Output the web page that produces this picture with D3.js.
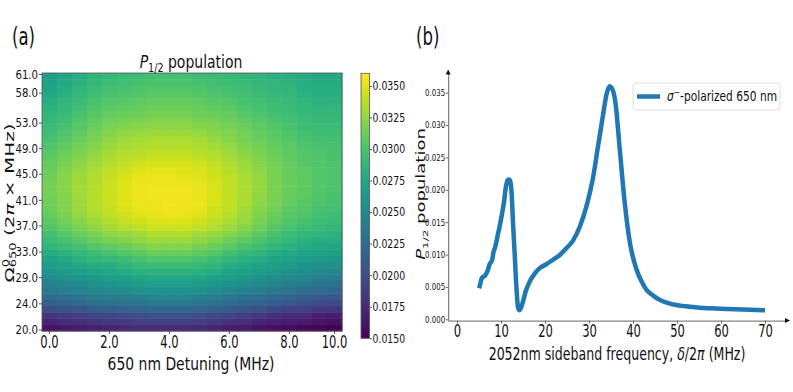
<!DOCTYPE html>
<html><head><meta charset="utf-8">
<script src="https://cdn.jsdelivr.net/npm/d3@7"></script>
<style>
body{margin:0;background:#fff;}
svg{display:block;font-family:"DejaVu Sans",sans-serif;}
</style></head><body>
<svg id="c" width="793" height="392"></svg>
<script>
// ---------- data: panel (a) ----------
const detuning = [0,0.53,1.05,1.58,2.11,2.63,3.16,3.68,4.21,4.74,5.26,5.79,6.32,6.84,7.37,7.89,8.42,8.95,9.47,10.0];
const detuningTickCols = [0,4,8,12,16,19];
const detuningTickLabels = ["0.0","2.0","4.0","6.0","8.0","10.0"];
const rabi = [20,21.03,22.05,23.08,24.1,25.13,26.15,27.18,28.2,29.23,30.25,31.28,32.3,33.33,34.35,35.38,36.4,37.43,38.45,39.48,40.5,41.53,42.55,43.58,44.6,45.63,46.65,47.68,48.7,49.73,50.75,51.78,52.8,53.83,54.85,55.88,56.9,57.93,58.95,59.98,61.0];
const rabiTickValues = [20,24.2,28.4,32.5,36.7,40.8,45.0,49.1,53.2,58.0,61.0];
const rabiTickLabels = ["20.0","24.0","29.0","33.0","37.0","41.0","45.0","49.0","53.0","58.0","61.0"];
// rows from bottom (20) to top (61), columns from detuning 0 to 10
const populationGrid = [
[0.0160,0.0163,0.0167,0.0169,0.0171,0.0173,0.0175,0.0175,0.0175,0.0175,0.0173,0.0171,0.0167,0.0165,0.0160,0.0158,0.0156,0.0154,0.0152,0.0150],
[0.0171,0.0175,0.0179,0.0182,0.0184,0.0186,0.0188,0.0189,0.0189,0.0189,0.0187,0.0184,0.0180,0.0177,0.0172,0.0169,0.0166,0.0164,0.0161,0.0159],
[0.0182,0.0186,0.0190,0.0194,0.0196,0.0198,0.0200,0.0203,0.0203,0.0203,0.0200,0.0196,0.0192,0.0188,0.0184,0.0179,0.0175,0.0173,0.0169,0.0167],
[0.0198,0.0202,0.0206,0.0210,0.0212,0.0214,0.0216,0.0219,0.0219,0.0219,0.0216,0.0212,0.0208,0.0204,0.0200,0.0195,0.0191,0.0188,0.0184,0.0182],
[0.0213,0.0217,0.0221,0.0226,0.0228,0.0230,0.0232,0.0234,0.0234,0.0234,0.0232,0.0228,0.0224,0.0219,0.0215,0.0211,0.0207,0.0203,0.0198,0.0196],
[0.0224,0.0228,0.0232,0.0237,0.0239,0.0241,0.0244,0.0246,0.0246,0.0246,0.0244,0.0240,0.0236,0.0231,0.0227,0.0223,0.0219,0.0215,0.0210,0.0208],
[0.0234,0.0238,0.0242,0.0247,0.0249,0.0251,0.0255,0.0257,0.0257,0.0257,0.0255,0.0251,0.0247,0.0242,0.0238,0.0234,0.0230,0.0226,0.0221,0.0219],
[0.0243,0.0247,0.0251,0.0255,0.0259,0.0261,0.0265,0.0267,0.0267,0.0267,0.0265,0.0261,0.0257,0.0252,0.0248,0.0244,0.0240,0.0236,0.0231,0.0229],
[0.0251,0.0255,0.0259,0.0263,0.0268,0.0270,0.0274,0.0276,0.0276,0.0276,0.0274,0.0270,0.0266,0.0261,0.0257,0.0253,0.0249,0.0245,0.0240,0.0238],
[0.0259,0.0263,0.0268,0.0272,0.0275,0.0279,0.0283,0.0285,0.0285,0.0285,0.0283,0.0279,0.0273,0.0269,0.0265,0.0261,0.0256,0.0252,0.0249,0.0247],
[0.0266,0.0270,0.0276,0.0280,0.0282,0.0287,0.0291,0.0293,0.0293,0.0293,0.0291,0.0287,0.0280,0.0276,0.0272,0.0268,0.0263,0.0259,0.0257,0.0255],
[0.0273,0.0277,0.0284,0.0288,0.0291,0.0295,0.0300,0.0303,0.0303,0.0303,0.0300,0.0295,0.0289,0.0284,0.0280,0.0274,0.0270,0.0266,0.0264,0.0262],
[0.0280,0.0284,0.0291,0.0295,0.0299,0.0303,0.0308,0.0312,0.0312,0.0312,0.0308,0.0303,0.0297,0.0291,0.0287,0.0280,0.0276,0.0272,0.0270,0.0268],
[0.0287,0.0292,0.0298,0.0304,0.0308,0.0312,0.0316,0.0321,0.0321,0.0321,0.0316,0.0312,0.0306,0.0300,0.0294,0.0288,0.0283,0.0278,0.0276,0.0274],
[0.0293,0.0299,0.0305,0.0312,0.0316,0.0320,0.0324,0.0329,0.0329,0.0329,0.0324,0.0320,0.0314,0.0308,0.0301,0.0295,0.0289,0.0284,0.0282,0.0280],
[0.0298,0.0305,0.0312,0.0318,0.0324,0.0328,0.0332,0.0336,0.0336,0.0336,0.0332,0.0328,0.0322,0.0315,0.0308,0.0300,0.0294,0.0290,0.0287,0.0285],
[0.0303,0.0310,0.0318,0.0324,0.0331,0.0335,0.0339,0.0343,0.0343,0.0343,0.0339,0.0335,0.0329,0.0322,0.0314,0.0305,0.0299,0.0295,0.0291,0.0289],
[0.0307,0.0314,0.0322,0.0329,0.0335,0.0340,0.0345,0.0348,0.0349,0.0348,0.0345,0.0339,0.0333,0.0326,0.0317,0.0309,0.0302,0.0298,0.0294,0.0292],
[0.0310,0.0318,0.0326,0.0333,0.0339,0.0345,0.0350,0.0352,0.0354,0.0352,0.0350,0.0343,0.0337,0.0329,0.0320,0.0312,0.0305,0.0301,0.0297,0.0295],
[0.0312,0.0319,0.0328,0.0335,0.0341,0.0348,0.0352,0.0354,0.0355,0.0354,0.0352,0.0345,0.0339,0.0331,0.0322,0.0315,0.0308,0.0303,0.0299,0.0297],
[0.0314,0.0320,0.0329,0.0337,0.0343,0.0350,0.0354,0.0355,0.0356,0.0355,0.0354,0.0347,0.0341,0.0333,0.0324,0.0318,0.0310,0.0305,0.0301,0.0299],
[0.0315,0.0321,0.0330,0.0337,0.0343,0.0350,0.0354,0.0356,0.0356,0.0356,0.0353,0.0347,0.0341,0.0333,0.0325,0.0318,0.0311,0.0307,0.0302,0.0300],
[0.0316,0.0322,0.0331,0.0337,0.0343,0.0350,0.0354,0.0356,0.0356,0.0356,0.0352,0.0347,0.0341,0.0333,0.0326,0.0318,0.0312,0.0308,0.0303,0.0301],
[0.0315,0.0322,0.0330,0.0336,0.0342,0.0349,0.0353,0.0355,0.0355,0.0354,0.0351,0.0346,0.0340,0.0333,0.0326,0.0318,0.0312,0.0308,0.0303,0.0301],
[0.0314,0.0322,0.0329,0.0335,0.0341,0.0347,0.0352,0.0354,0.0354,0.0352,0.0350,0.0345,0.0339,0.0333,0.0326,0.0318,0.0312,0.0308,0.0303,0.0301],
[0.0312,0.0320,0.0327,0.0333,0.0339,0.0344,0.0349,0.0351,0.0351,0.0350,0.0348,0.0343,0.0337,0.0331,0.0324,0.0317,0.0311,0.0307,0.0303,0.0301],
[0.0310,0.0318,0.0324,0.0331,0.0337,0.0341,0.0345,0.0347,0.0347,0.0347,0.0345,0.0341,0.0335,0.0329,0.0322,0.0316,0.0310,0.0305,0.0303,0.0301],
[0.0308,0.0315,0.0321,0.0328,0.0334,0.0338,0.0341,0.0343,0.0343,0.0343,0.0341,0.0337,0.0332,0.0326,0.0320,0.0314,0.0309,0.0304,0.0302,0.0300],
[0.0305,0.0312,0.0318,0.0324,0.0331,0.0335,0.0337,0.0339,0.0339,0.0339,0.0337,0.0333,0.0329,0.0322,0.0318,0.0312,0.0308,0.0303,0.0301,0.0299],
[0.0302,0.0309,0.0315,0.0321,0.0328,0.0332,0.0334,0.0336,0.0336,0.0336,0.0334,0.0330,0.0326,0.0320,0.0315,0.0310,0.0306,0.0301,0.0299,0.0298],
[0.0299,0.0305,0.0312,0.0318,0.0324,0.0329,0.0331,0.0333,0.0333,0.0333,0.0331,0.0326,0.0322,0.0318,0.0312,0.0308,0.0303,0.0299,0.0297,0.0297],
[0.0296,0.0302,0.0309,0.0315,0.0321,0.0325,0.0327,0.0329,0.0329,0.0329,0.0327,0.0323,0.0319,0.0315,0.0310,0.0306,0.0301,0.0297,0.0295,0.0295],
[0.0293,0.0299,0.0305,0.0312,0.0318,0.0320,0.0322,0.0324,0.0324,0.0324,0.0322,0.0320,0.0316,0.0312,0.0308,0.0303,0.0299,0.0295,0.0293,0.0293],
[0.0290,0.0296,0.0302,0.0309,0.0314,0.0316,0.0318,0.0320,0.0320,0.0320,0.0318,0.0316,0.0313,0.0309,0.0305,0.0300,0.0297,0.0293,0.0291,0.0291],
[0.0287,0.0293,0.0299,0.0305,0.0310,0.0312,0.0314,0.0316,0.0316,0.0316,0.0314,0.0312,0.0310,0.0305,0.0301,0.0297,0.0295,0.0291,0.0289,0.0289],
[0.0284,0.0290,0.0296,0.0302,0.0307,0.0309,0.0311,0.0313,0.0313,0.0313,0.0311,0.0309,0.0307,0.0302,0.0299,0.0295,0.0293,0.0289,0.0287,0.0287],
[0.0280,0.0287,0.0293,0.0299,0.0303,0.0305,0.0308,0.0310,0.0310,0.0310,0.0308,0.0305,0.0303,0.0299,0.0297,0.0293,0.0291,0.0287,0.0284,0.0284],
[0.0277,0.0284,0.0290,0.0296,0.0300,0.0302,0.0305,0.0307,0.0307,0.0307,0.0305,0.0302,0.0300,0.0297,0.0294,0.0291,0.0289,0.0285,0.0282,0.0282],
[0.0274,0.0280,0.0287,0.0293,0.0297,0.0299,0.0301,0.0303,0.0303,0.0303,0.0301,0.0299,0.0297,0.0295,0.0291,0.0289,0.0287,0.0282,0.0280,0.0280],
[0.0271,0.0277,0.0284,0.0290,0.0294,0.0296,0.0298,0.0300,0.0300,0.0300,0.0298,0.0296,0.0294,0.0292,0.0289,0.0287,0.0285,0.0280,0.0278,0.0278],
[0.0268,0.0274,0.0280,0.0287,0.0291,0.0293,0.0295,0.0297,0.0297,0.0297,0.0295,0.0293,0.0291,0.0289,0.0287,0.0284,0.0282,0.0278,0.0276,0.0276]
];
const colorbarDomain = [0.015,0.036];
const colorbarTicks = [0.015,0.0175,0.02,0.0225,0.025,0.0275,0.03,0.0325,0.035];

// ---------- data: panel (b) ----------
const sidebandFreq = [5.0,5.2,5.5,5.8,6.3,6.7,7.05,7.4,7.7,8.0,8.3,8.6,8.9,9.2,9.55,10.1,10.7,11.1,11.4,11.7,12.0,12.3,12.5,12.7,13.1,13.5,13.9,14.2,14.5,14.9,15.6,16.5,17.7,18.8,20.3,21.8,23.3,24.9,26.4,27.9,29.4,30.9,32.0,33.2,34.0,34.7,35.5,36.0,37.0,38.1,39.3,40.8,42.0,43.0,44.5,46.1,48.0,49.8,52.0,55.1,58.0,61.2,65.0,70.0];
const sidebandPop = [0.0048,0.0052,0.0061,0.0065,0.0067,0.0071,0.0077,0.0085,0.0088,0.0092,0.0104,0.0110,0.0118,0.0128,0.0139,0.0158,0.0182,0.0204,0.0213,0.0216,0.0215,0.0205,0.0185,0.0153,0.0102,0.0050,0.0017,0.0014,0.0017,0.0025,0.0043,0.0058,0.0071,0.0079,0.0085,0.0092,0.0099,0.0110,0.0122,0.0143,0.0174,0.0218,0.0265,0.0316,0.0348,0.0360,0.0352,0.0335,0.0262,0.0181,0.0118,0.0077,0.0058,0.0046,0.0037,0.0030,0.0025,0.0022,0.0020,0.0018,0.0017,0.0016,0.0015,0.0014];
const freqTicks = [0,10,20,30,40,50,60,70];
const popTicks = [0,0.005,0.01,0.015,0.02,0.025,0.03,0.035];
const legendLabel = "-polarized 650 nm";

// ---------- drawing ----------
const svg = d3.select("#c");
const TXT = "#111";
function label(x, y, size, sx, anchor, rotate){
  return svg.append("text")
    .attr("transform", `translate(${x},${y}) scale(${sx},1)` + (rotate ? " rotate(-90)" : ""))
    .attr("text-anchor", anchor).attr("font-size", size).attr("fill", TXT);
}

// panel (a) heatmap
const color = d3.scaleSequential(d3.interpolateViridis).domain(colorbarDomain);
const hx = d3.scaleBand().domain(detuning).range([42, 342]);
const hy = d3.scaleBand().domain(rabi).range([331, 73]);
const hyAxis = d3.scaleLinear().domain([20, 61]).range([329.5, 74]);

const cells = [];
populationGrid.forEach((row, ri) => row.forEach((v, ci) => cells.push({r: rabi[ri], d: detuning[ci], v})));
svg.append("g").selectAll("rect").data(cells).join("rect")
  .attr("x", d => hx(d.d)).attr("y", d => hy(d.r))
  .attr("width", hx.bandwidth() + 0.5).attr("height", hy.bandwidth() + 0.5)
  .attr("fill", d => color(d.v));
svg.append("rect").attr("x", 42).attr("y", 73).attr("width", 300).attr("height", 258)
  .attr("fill", "none").attr("stroke", "#555").attr("stroke-width", 0.8);

const gxA = svg.append("g").attr("transform", "translate(0,331)")
  .call(d3.axisBottom(hx).tickValues(detuningTickCols.map(i => detuning[i]))
    .tickFormat((d, i) => detuningTickLabels[i]).tickSize(3).tickSizeOuter(0));
gxA.select(".domain").remove();
gxA.selectAll("line").attr("stroke", "#555");
gxA.selectAll("text").attr("font-size", 17).attr("fill", TXT).attr("y", 5).attr("dy", "0.71em")
  .attr("transform", "scale(0.68,1)").attr("font-family", "DejaVu Sans");

const gyA = svg.append("g").attr("transform", "translate(42,0)")
  .call(d3.axisLeft(hyAxis).tickValues(rabiTickValues)
    .tickFormat((d, i) => rabiTickLabels[i]).tickSize(3).tickSizeOuter(0));
gyA.select(".domain").remove();
gyA.selectAll("line").attr("stroke", "#555");
gyA.selectAll("text").attr("font-size", 13).attr("fill", TXT).attr("x", -4 / 0.78)
  .attr("transform", "scale(0.78,1)").attr("font-family", "DejaVu Sans");

// colorbar
const cb = d3.scaleLinear().domain(colorbarDomain).range([338.3, 73.3]);
const grad = svg.append("defs").append("linearGradient").attr("id", "vir")
  .attr("x1", 0).attr("y1", 1).attr("x2", 0).attr("y2", 0);
d3.range(0, 1.0001, 0.05).forEach(t => grad.append("stop").attr("offset", t).attr("stop-color", d3.interpolateViridis(t)));
svg.append("rect").attr("x", 361).attr("y", cb(colorbarDomain[1])).attr("width", 8.5)
  .attr("height", cb(colorbarDomain[0]) - cb(colorbarDomain[1]))
  .attr("fill", "url(#vir)").attr("stroke", "#555").attr("stroke-width", 0.8);
const gcb = svg.append("g").attr("transform", "translate(369.5,0)")
  .call(d3.axisRight(cb).tickValues(colorbarTicks).tickFormat(d3.format(".4f")).tickSize(2.5).tickSizeOuter(0));
gcb.select(".domain").remove();
gcb.selectAll("line").attr("stroke", "#555");
gcb.selectAll("text").attr("font-size", 12).attr("fill", TXT).attr("x", 3 / 0.78)
  .attr("transform", "scale(0.78,1)").attr("font-family", "DejaVu Sans");

// panel (a) texts
label(12, 45, 25, 0.66, "start").text("(a)");
const ttl = label(191, 68, 17.5, 0.8, "middle");
ttl.append("tspan").attr("font-style", "italic").text("P");
ttl.append("tspan").attr("font-size", 12).attr("dy", 4).text("1/2");
ttl.append("tspan").attr("dy", -4).text(" population");
label(191, 370, 17, 0.82, "middle").text("650 nm Detuning (MHz)");
const yl = label(14, 203, 20, 0.62, "middle", true);
yl.append("tspan").text("Ω");
yl.append("tspan").attr("font-size", 13).attr("dy", -8).text("0");
yl.append("tspan").attr("font-size", 13).attr("dx", -8.3).attr("dy", 12).text("650");
yl.append("tspan").attr("dy", -4).text("  (2");
yl.append("tspan").attr("font-style", "italic").text("π");
yl.append("tspan").text(" ×  MHz)");

// panel (b)
const px = d3.scaleLinear().domain([-2, 75]).range([448.2, 787]);
const py = d3.scaleLinear().domain([-0.0002, 0.0381]).range([320.6, 72.6]);
const AX = "#666";
const gxB = svg.append("g").attr("transform", `translate(0,${py(-0.0002)})`)
  .call(d3.axisBottom(px).tickValues(freqTicks).tickSize(3).tickSizeOuter(0));
gxB.select(".domain").attr("stroke", AX);
gxB.selectAll("line").attr("stroke", AX);
gxB.selectAll("text").attr("font-size", 17.5).attr("fill", TXT).attr("y", 4).attr("dy", "0.71em")
  .attr("transform", "scale(0.66,1)").attr("font-family", "DejaVu Sans");
const gyB = svg.append("g").attr("transform", `translate(${px(-2)},0)`)
  .call(d3.axisLeft(py).tickValues(popTicks).tickFormat(d3.format(".3f")).tickSize(2.5).tickSizeOuter(0));
gyB.select(".domain").attr("stroke", AX);
gyB.selectAll("line").attr("stroke", AX);
gyB.selectAll("text").attr("font-size", 9).attr("fill", TXT).attr("x", -3 / 0.78)
  .attr("transform", "scale(0.78,1)").attr("font-family", "DejaVu Sans");
// arrowheads
const xa = px(75), ya = py(-0.0002), xb = px(-2), yb = py(0.0381);
svg.append("path").attr("d", `M${xa+3},${ya} L${xa-2},${ya-2.5} L${xa-2},${ya+2.5} Z`).attr("fill", "#111");
svg.append("path").attr("d", `M${xb},${yb-3} L${xb-2.5},${yb+2} L${xb+2.5},${yb+2} Z`).attr("fill", "#111");

const pts = sidebandFreq.map((f, i) => [f, sidebandPop[i]]);
svg.append("path").datum(pts)
  .attr("d", d3.line().x(d => px(d[0])).y(d => py(d[1])).curve(d3.curveMonotoneX))
  .attr("fill", "none").attr("stroke", "#1f77b4").attr("stroke-width", 4.5)
  .attr("stroke-linejoin", "round").attr("stroke-linecap", "butt");

label(416, 45, 25, 0.66, "start").text("(b)");
const xlb = label(617, 360, 17, 0.74, "middle");
xlb.append("tspan").text("2052nm sideband frequency, ");
xlb.append("tspan").attr("font-style", "italic").text("δ");
xlb.append("tspan").text("/2");
xlb.append("tspan").attr("font-style", "italic").text("π");
xlb.append("tspan").text(" (MHz)");
const ylb = label(425, 194, 18, 0.65, "middle", true);
ylb.append("tspan").attr("font-style", "italic").text("P");
ylb.append("tspan").attr("font-size", 12).attr("dy", 4).text("1/2");
ylb.append("tspan").attr("dy", -4).text(" population");

// legend
svg.append("rect").attr("x", 633).attr("y", 83).attr("width", 147).attr("height", 27).attr("rx", 3)
  .attr("fill", "#fff").attr("stroke", "#d5d5d5").attr("stroke-width", 0.8);
svg.append("line").attr("x1", 637).attr("x2", 660).attr("y1", 96.5).attr("y2", 96.5)
  .attr("stroke", "#1f77b4").attr("stroke-width", 4.5);
const lg = label(667, 101, 14, 0.76, "start");
lg.append("tspan").attr("font-style", "italic").text("σ");
lg.append("tspan").attr("font-size", 10).attr("dy", -5).text("−");
lg.append("tspan").attr("dy", 5).text(legendLabel);
</script>
</body></html>
